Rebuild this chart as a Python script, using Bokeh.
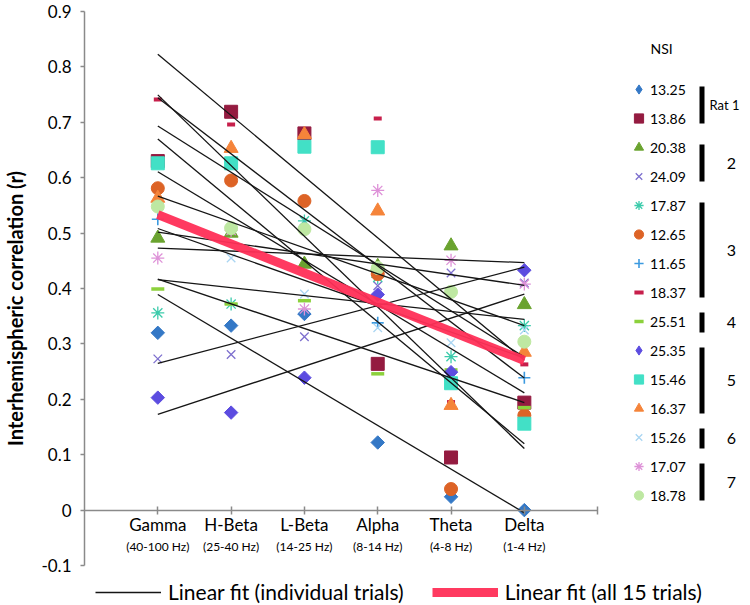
import numpy as np
from bokeh.plotting import figure
from bokeh.models import (Range1d, FixedTicker, LinearAxis, Legend, LegendItem,
                          Label, BoxAnnotation)
from bokeh.embed import file_html
from bokeh.resources import INLINE

# ---------------- data ----------------
bands = ["Gamma", "H-Beta", "L-Beta", "Alpha", "Theta", "Delta"]
hz_ranges = ["(40-100 Hz)", "(25-40 Hz)", "(14-25 Hz)", "(8-14 Hz)", "(4-8 Hz)", "(1-4 Hz)"]
band_pos = [1, 2, 3, 4, 5, 6]

nsi = ["13.25", "13.86", "20.38", "24.09", "17.87", "12.65", "11.65", "18.37",
       "25.51", "25.35", "15.46", "16.37", "15.26", "17.07", "18.78"]

# values per trial: Gamma, H-Beta, L-Beta, Alpha, Theta, Delta
r_13_25 = [0.320, 0.333, 0.354, 0.122, 0.024, 0.000]
r_13_86 = [0.630, 0.719, 0.680, 0.264, 0.095, 0.194]
r_20_38 = [0.491, 0.500, 0.444, 0.440, 0.477, 0.371]
r_24_09 = [0.273, 0.281, 0.313, 0.405, 0.428, 0.410]
r_17_87 = [0.356, 0.372, 0.522, 0.420, 0.277, 0.333]
r_12_65 = [0.581, 0.595, 0.558, 0.426, 0.038, 0.171]
r_11_65 = [0.525, 0.626, 0.510, 0.338, 0.229, 0.239]
r_18_37 = [0.741, 0.696, 0.678, 0.707, 0.195, 0.263]
r_25_51 = [0.399, 0.372, 0.378, 0.246, 0.253, 0.185]
r_25_35 = [0.203, 0.176, 0.239, 0.389, 0.249, 0.433]
r_15_46 = [0.626, 0.626, 0.656, 0.655, 0.229, 0.156]
r_16_37 = [0.563, 0.653, 0.678, 0.540, 0.189, 0.285]
r_15_26 = [0.548, 0.455, 0.390, 0.329, 0.302, 0.325]
r_17_07 = [0.455, 0.505, 0.363, 0.577, 0.451, 0.408]
r_18_78 = [0.548, 0.509, 0.507, 0.437, 0.394, 0.304]

series = [r_13_25, r_13_86, r_20_38, r_24_09, r_17_87, r_12_65, r_11_65, r_18_37,
          r_25_51, r_25_35, r_15_46, r_16_37, r_15_26, r_17_07, r_18_78]

rat_groups = ["Rat 1", "2", "3", "4", "5", "6", "7"]
rat_group_sizes = [2, 2, 4, 1, 3, 1, 2]

y_ticks = [-0.1, 0.0, 0.1, 0.2, 0.3, 0.4, 0.5, 0.6, 0.7, 0.8, 0.9]
y_tick_labels = ["-0.1", "0", "0.1", "0.2", "0.3", "0.4", "0.5", "0.6", "0.7", "0.8", "0.9"]

# ---------------- styles ----------------
markers = ["square", "square", "triangle", "x", "asterisk", "circle", "cross", "dash",
           "dash", "square", "square", "triangle", "x", "asterisk", "circle"]
legend_markers = ["diamond", "square", "triangle", "x", "asterisk", "circle", "cross", "dash",
                  "dash", "diamond", "square", "triangle", "x", "asterisk", "circle"]
angles = [np.pi / 4, 0, 0, 0, 0, 0, 0, 0, 0, np.pi / 4, 0, 0, 0, 0, 0]
sizes = [9.5, 13, 14, 12, 13, 13, 12, 8, 13, 9.5, 13, 14, 12, 13, 13]
lwidths = [1, 1, 1, 1.3, 1.3, 1, 1.6, 4, 3.5, 1, 1, 1, 1.3, 1.3, 1]
colors = ["#3478C6", "#941B40", "#6AA32F", "#7D6FCE", "#3CCBAB", "#DD6326", "#3C9AE0",
          "#C71F4B", "#8CD13C", "#5C4CE0", "#42E0C6", "#F5843A", "#A9D5F2", "#DE92D8",
          "#BEE8A2"]

FONT = "Lato"
AX = "#8a8a8a"

# ---------------- geometry (picture px) ----------------
FIG_W, FIG_H = 750, 605
FRAME_L, FRAME_T = 79, 11
FRAME_R, FRAME_B = FIG_W, FIG_H
X7_PX, YM_PX = 596, 565            # where x = 7 and y = -0.1 sit
ux = (X7_PX - FRAME_L) / 7.0
uy = (YM_PX - FRAME_T) / 1.0
x_end = (FRAME_R - FRAME_L) / ux
y_start = -0.1 - (FRAME_B - YM_PX) / uy

p = figure(width=FIG_W, height=FIG_H, output_backend="svg", toolbar_location=None,
           x_range=Range1d(0, x_end), y_range=Range1d(y_start, 0.9),
           x_axis_location=None, y_axis_location=None,
           min_border_left=FRAME_L, min_border_right=0,
           min_border_top=FRAME_T, min_border_bottom=0)
p.grid.visible = False
p.outline_line_color = None

# y axis
yax = LinearAxis(ticker=FixedTicker(ticks=y_ticks), bounds=(y_ticks[0], y_ticks[-1]),
                 major_label_overrides={t: l for t, l in zip(y_ticks, y_tick_labels)},
                 axis_label="Interhemispheric correlation (r)",
                 axis_label_text_font=FONT, axis_label_text_font_style="bold",
                 axis_label_text_font_size="20px", axis_label_text_color="black",
                 axis_label_standoff=11,
                 major_label_text_font=FONT, major_label_text_font_size="17px",
                 major_label_text_color="black", major_label_standoff=9,
                 axis_line_color=AX, axis_line_width=1.5,
                 major_tick_line_color=AX, major_tick_line_width=1.5,
                 major_tick_in=0, major_tick_out=4, minor_tick_line_color=None)
p.add_layout(yax, "left")

# x axis crossing at y = 0
x_ticks = band_pos + [7]
xax = LinearAxis(ticker=FixedTicker(ticks=x_ticks), fixed_location=0, bounds=(0, 7),
                 major_label_overrides={**{b: n for b, n in zip(band_pos, bands)}, 7: ""},
                 major_label_text_font=FONT, major_label_text_font_size="17px",
                 major_label_text_color="black", major_label_standoff=0,
                 axis_line_color=AX, axis_line_width=1.5,
                 major_tick_line_color=AX, major_tick_line_width=1.5,
                 major_tick_in=4, major_tick_out=4, minor_tick_line_color=None)
p.add_layout(xax, "below")

hzax = LinearAxis(ticker=FixedTicker(ticks=band_pos), fixed_location=0, bounds=(0, 7),
                  major_label_overrides={b: h for b, h in zip(band_pos, hz_ranges)},
                  major_label_text_font=FONT, major_label_text_font_size="12px",
                  major_label_text_color="black", major_label_standoff=29,
                  axis_line_color=None, major_tick_line_color=None,
                  major_tick_in=0, major_tick_out=0, minor_tick_line_color=None)
p.add_layout(hzax, "below")

# markers
renderers = []
for i, s in enumerate(series):
    r = p.scatter(x=band_pos, y=s, marker=markers[i], size=sizes[i], angle=angles[i],
                  fill_color=colors[i], line_color=colors[i], line_width=lwidths[i])
    renderers.append(r)

# legend swatches: same styles, never drawn in the plot (no finite coordinates)
legend_renderers = []
for i in range(len(series)):
    lr = p.scatter(x=[np.nan], y=[np.nan], marker=legend_markers[i], size=sizes[i],
                   fill_color=colors[i], line_color=colors[i], line_width=lwidths[i])
    legend_renderers.append(lr)

# linear fits (individual trials)
fit_xs, fit_ys = [], []
for s in series:
    m, b = np.polyfit(band_pos, s, 1)
    fit_xs.append([band_pos[0], band_pos[-1]])
    fit_ys.append([m * band_pos[0] + b, m * band_pos[-1] + b])
fit_r = p.multi_line(fit_xs, fit_ys, line_color="#151515", line_width=1.3)

# linear fit (all trials)
all_x = np.tile(band_pos, len(series))
all_y = np.concatenate(series)
m_all, b_all = np.polyfit(all_x, all_y, 1)
all_r = p.line([band_pos[0], band_pos[-1]],
               [m_all * band_pos[0] + b_all, m_all * band_pos[-1] + b_all],
               line_color="#FF2F57", line_width=9, line_alpha=0.95)

# ---------------- NSI legend (right) ----------------
item_h, item_sp = 28, 1    # pitch 29
first_center = 89
leg_top = first_center - item_h / 2
n_items = len(nsi)
leg_h = n_items * item_h + (n_items - 1) * item_sp
leg = Legend(items=[LegendItem(label=nsi[i], renderers=[legend_renderers[i]])
                    for i in range(n_items)],
             location=(622 - FRAME_L, FRAME_B - (leg_top + leg_h)),
             orientation="vertical", glyph_width=23, glyph_height=item_h,
             label_height=item_h, spacing=item_sp, label_standoff=0,
             padding=0, margin=0, border_line_color=None, background_fill_alpha=0,
             label_text_font=FONT, label_text_font_size="14px", label_text_color="black")
p.add_layout(leg, "center")

p.add_layout(Label(x=645 - FRAME_L, y=FRAME_B - 48, x_units="screen", y_units="screen",
                   text="NSI", text_font=FONT, text_font_size="14px", text_baseline="middle",
                   text_align="left", text_color="black"))

start = 0
for g, n in zip(rat_groups, rat_group_sizes):
    c_top = first_center + start * (item_h + item_sp)
    c_bot = first_center + (start + n - 1) * (item_h + item_sp)
    ext = 10 if n == 1 else 4
    top, bot = c_top - ext + 1, c_bot + ext + 1
    p.add_layout(BoxAnnotation(left=694 - FRAME_L, right=699 - FRAME_L,
                               top=FRAME_B - top, bottom=FRAME_B - bot,
                               left_units="screen", right_units="screen",
                               top_units="screen", bottom_units="screen",
                               fill_color="black", fill_alpha=1, line_color=None))
    wide = len(g) > 2
    p.add_layout(Label(x=(734 if wide else 726) - FRAME_L, y=FRAME_B - (top + bot) / 2,
                       x_units="screen", y_units="screen",
                       text=g, text_font=FONT,
                       text_font_size="13px" if wide else "16px",
                       text_align="right" if wide else "center",
                       text_baseline="middle", text_color="black"))
    start += n

# ---------------- bottom legend ----------------
leg2 = Legend(items=[LegendItem(label="Linear fit (individual trials)", renderers=[fit_r]),
                     LegendItem(label="Linear fit (all 15 trials)", renderers=[all_r])],
              orientation="horizontal", location=(90 - FRAME_L, 1),
              glyph_width=66, glyph_height=24, label_height=24, label_standoff=7,
              spacing=28, padding=0, margin=0, border_line_color=None,
              background_fill_alpha=0, label_text_font=FONT,
              label_text_font_size="21px", label_text_color="black")
p.add_layout(leg2, "center")

open("out.html", "w").write(file_html(p, INLINE))
